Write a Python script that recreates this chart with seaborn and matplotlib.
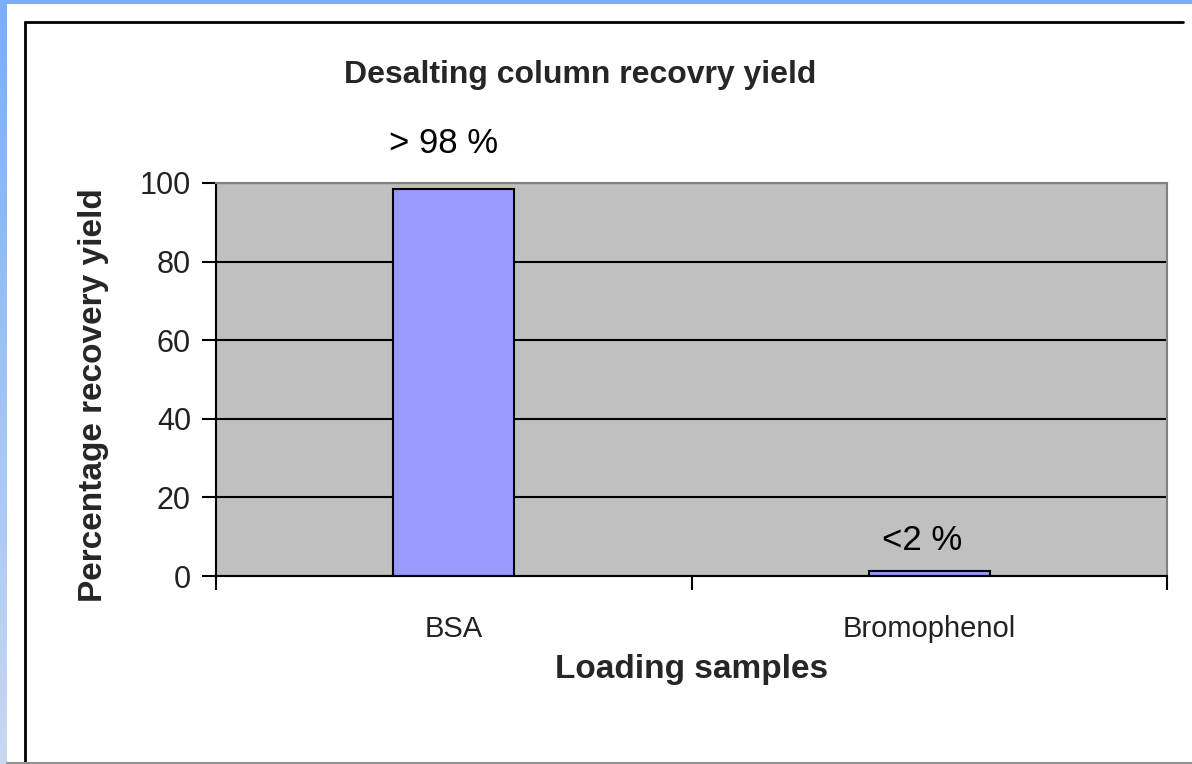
import numpy as np
import pandas as pd
import matplotlib
matplotlib.use("Agg")
import matplotlib.pyplot as plt
import seaborn as sns
from matplotlib.lines import Line2D

# data
samples = ["BSA", "Bromophenol"]
recovery = [98.5, 1.3]
bar_labels = ["> 98 %", "<2 %"]
yticks = [0, 20, 40, 60, 80, 100]

df = pd.DataFrame({"sample": samples, "recovery": recovery})

sns.set_style("white")
plt.rcParams["font.family"] = ["Liberation Sans", "DejaVu Sans"]

W, H = 1192, 764
fig = plt.figure(figsize=(W / 100, H / 100), dpi=100)
fig.patch.set_facecolor("white")

# blue gradient strip on the left, plain strip on top
strip = fig.add_axes([0, 0, 7 / W, 1])
grad = np.linspace(0, 1, 256).reshape(-1, 1)
cmap = matplotlib.colors.LinearSegmentedColormap.from_list("b", ["#78aefc", "#c8d8f0"])
strip.imshow(grad, aspect="auto", cmap=cmap)
strip.axis("off")
top = fig.add_axes([0, 1 - 4 / H, 1, 4 / H])
top.set_facecolor("#78aefc")
top.set_xticks([])
top.set_yticks([])
for s in top.spines.values():
    s.set_visible(False)

# black chart frame (left, top) and grey bottom edge
fig.add_artist(Line2D([25 / W, 25 / W], [0, 1 - 22 / H], color="black", lw=2, transform=fig.transFigure))
fig.add_artist(Line2D([25 / W, 1183 / W], [1 - 22 / H, 1 - 22 / H], color="black", lw=2, transform=fig.transFigure))
fig.add_artist(Line2D([7 / W, 1], [1 / H, 1 / H], color="#909090", lw=1.5, transform=fig.transFigure))

ax = fig.add_axes([216 / W, (H - 576) / H, 951 / W, 393 / H])
ax.set_facecolor("#c0c0c0")
ax.set_axisbelow(True)

sns.barplot(data=df, x="sample", y="recovery", color="#9999ff", edgecolor="black",
            linewidth=1.5, width=0.255, saturation=1, ax=ax)

ax.set_xlim(-0.5, 1.5)
ax.set_ylim(0, 100)
ax.set_yticks(yticks)
ax.yaxis.grid(True, color="black", lw=1.5)
ax.xaxis.grid(False)

# Excel style: tick marks between categories, labels at centres
ax.set_xticks([-0.5, 0.5, 1.5])
ax.set_xticklabels([])
ax.set_xticks([0, 1], minor=True)
ax.set_xticklabels(samples, minor=True)
ax.tick_params(axis="x", which="major", direction="out", length=10, width=1.5, color="black", bottom=True)
ax.tick_params(axis="x", which="minor", length=0, pad=28, labelsize=21, labelcolor="#222222")
ax.tick_params(axis="y", direction="out", length=10, width=1.5, color="black", left=True,
               pad=8, labelsize=22, labelcolor="#222222")

for side in ["left", "bottom"]:
    ax.spines[side].set_color("black")
    ax.spines[side].set_linewidth(1.5)
for side in ["top", "right"]:
    ax.spines[side].set_color("#808080")
    ax.spines[side].set_linewidth(1.5)
    ax.spines[side].set_visible(True)

# value labels, the big one sits higher above its bar than the small one
offsets = [(-7, 33), (-5, 22)]
for i, (v, t) in enumerate(zip(recovery, bar_labels)):
    ax.annotate(t, (i, v), xytext=offsets[i], textcoords="offset points", ha="center",
                va="center", fontsize=25, color="black", annotation_clip=False)

ax.set_xlabel("Loading samples", fontsize=24, fontweight="bold", labelpad=8)
ax.set_ylabel("Percentage recovery yield", fontsize=24, fontweight="bold")
ax.yaxis.set_label_coords(-0.112, 0.46)
fig.text(580 / W, 1 - 75 / H, "Desalting column recovry yield", ha="center", va="center",
         fontsize=23, fontweight="bold")

fig.savefig("out.png", dpi=100)
